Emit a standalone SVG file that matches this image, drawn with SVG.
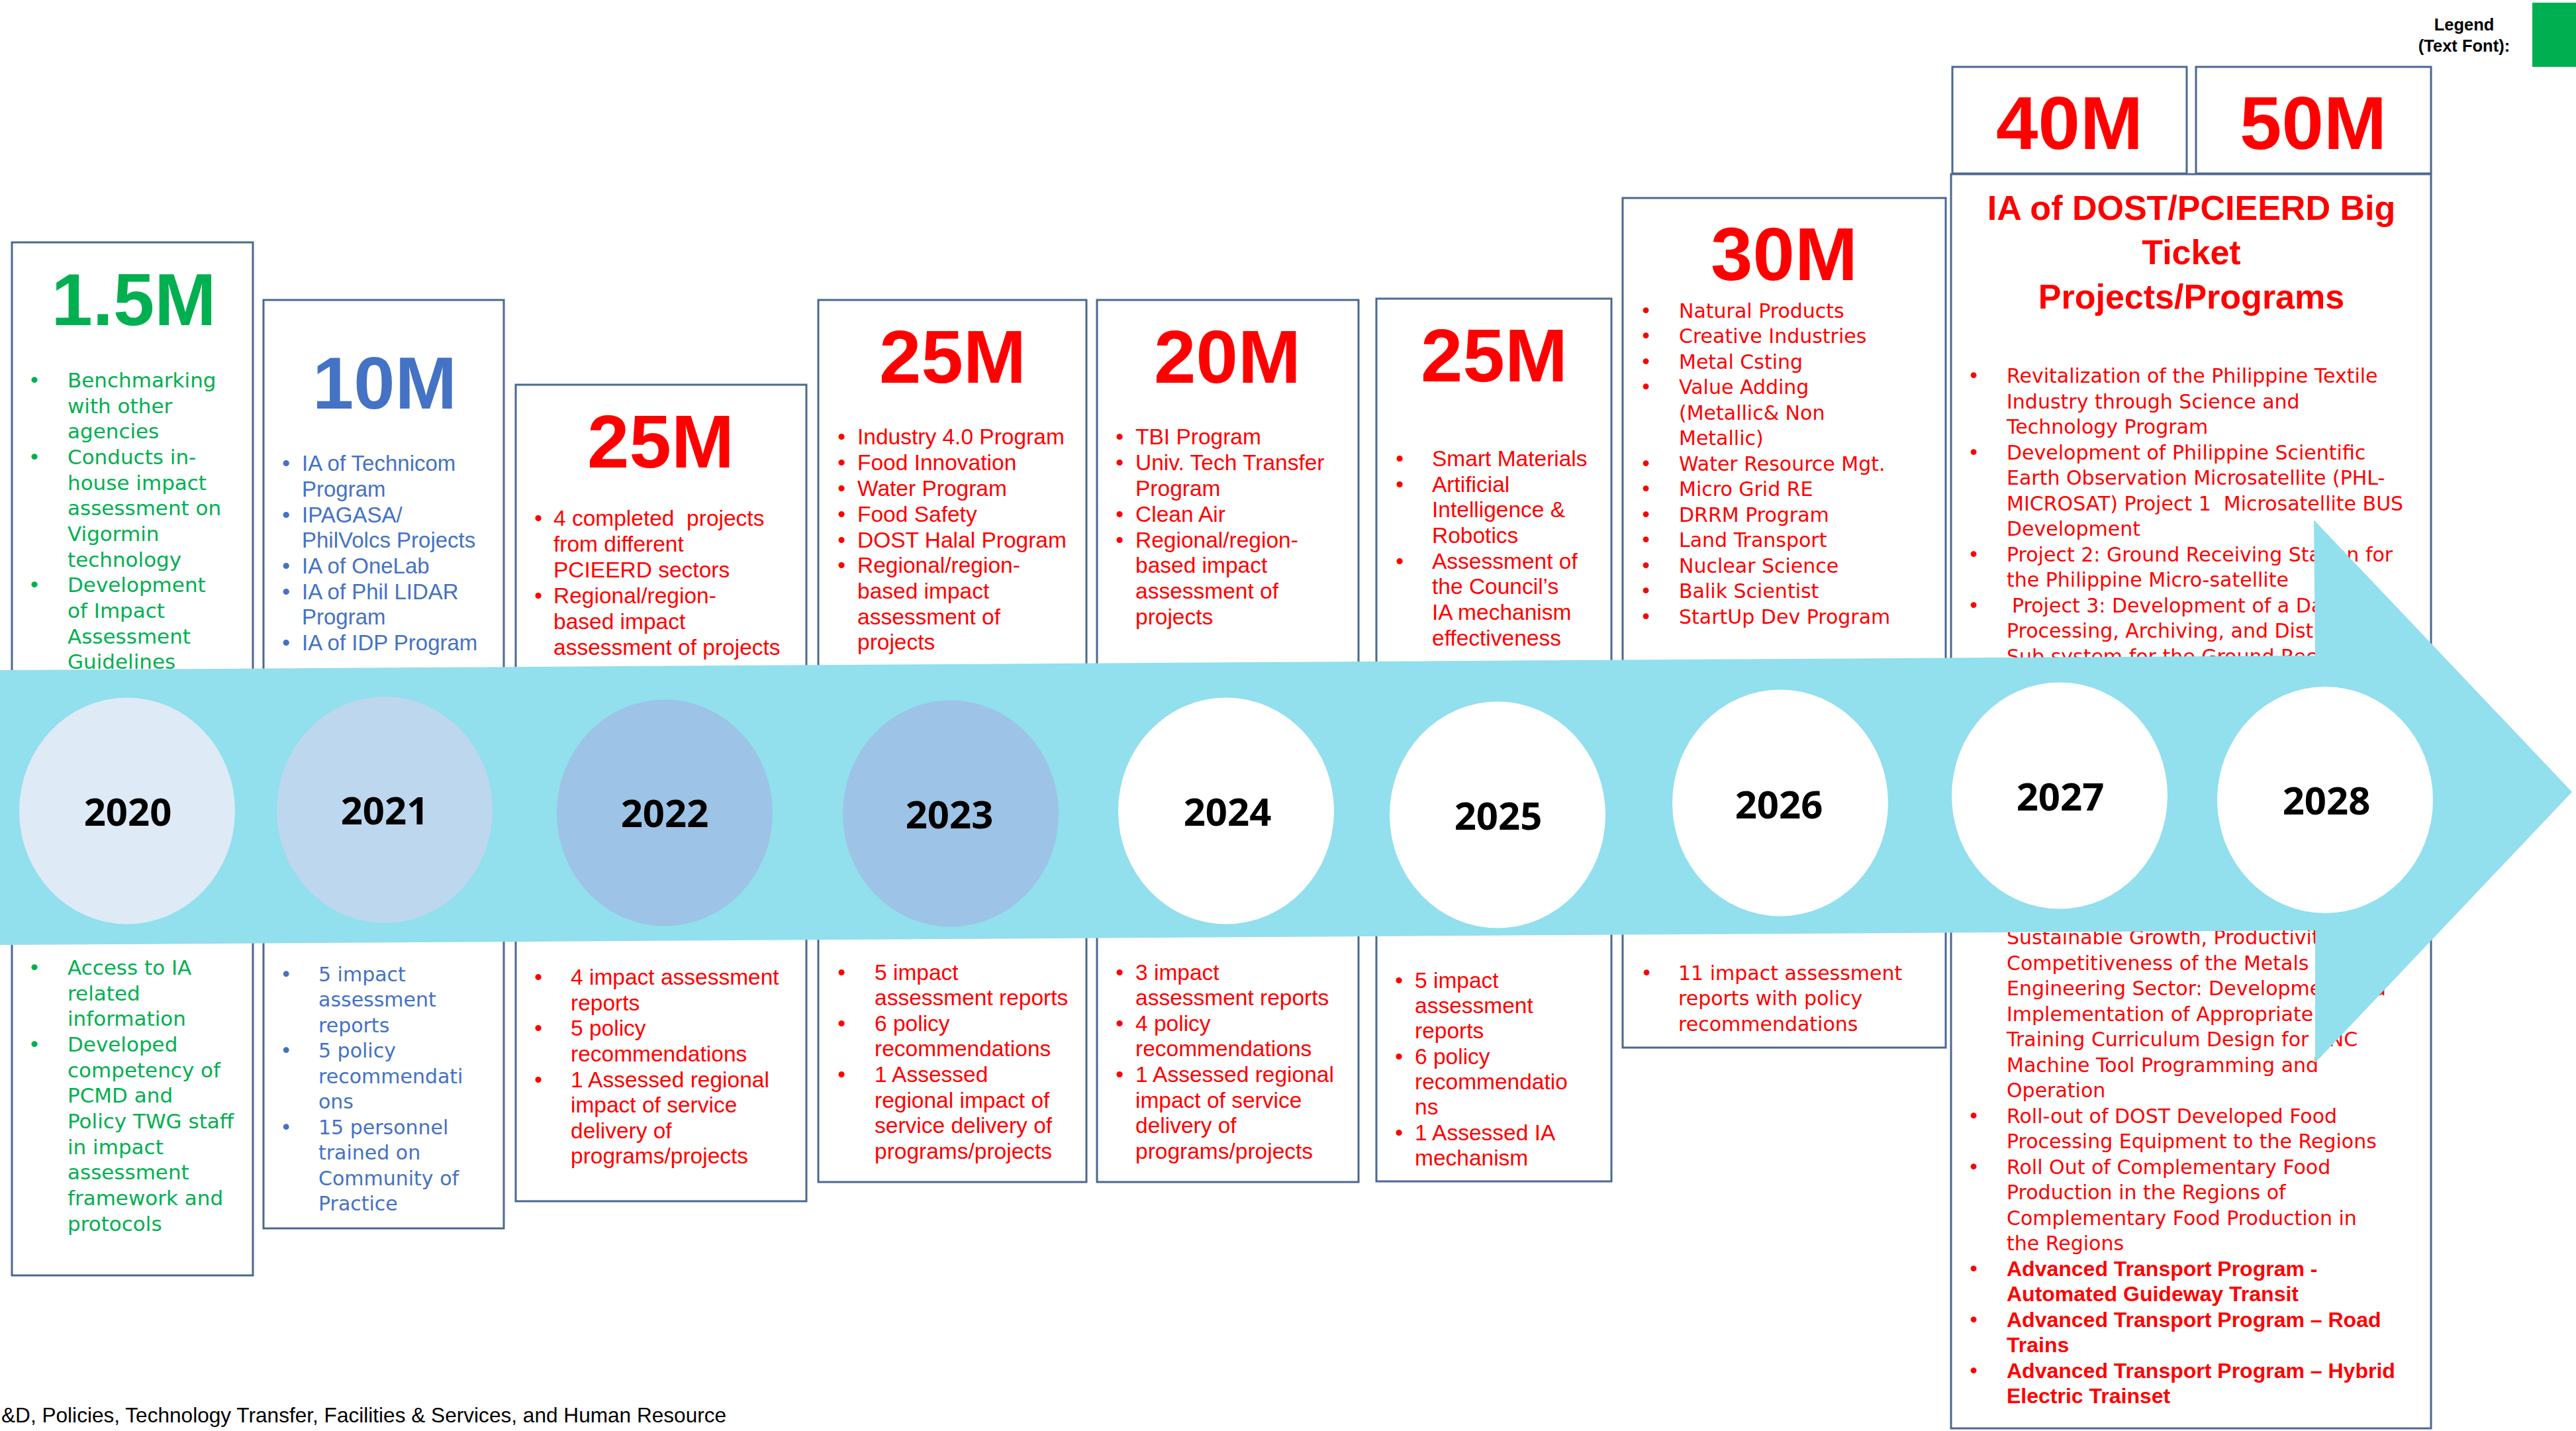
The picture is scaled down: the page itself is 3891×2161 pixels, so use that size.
<svg xmlns="http://www.w3.org/2000/svg" width="3891" height="2161" viewBox="0 0 3891 2161">
<style>
.box{fill:#fff;stroke:#4B6892;stroke-width:3}
.num{font-family:"Liberation Sans",Arial,sans-serif;font-weight:700;font-size:114px;text-anchor:middle}
.cg{font-family:"DejaVu Sans",sans-serif;font-size:30px}
.cg31{font-family:"DejaVu Sans",sans-serif;font-size:31px}
.cn{font-family:"Liberation Sans",Arial,sans-serif;font-size:33.5px}
.bd{font-family:"Liberation Sans",Arial,sans-serif;font-size:32px;font-weight:700}
.ttl{font-family:"Liberation Sans",Arial,sans-serif;font-size:52px;font-weight:700;text-anchor:middle}
.g{fill:#00B050}.b{fill:#4472C4}.r{fill:#FF0000}
.bul{text-anchor:middle}
.yr{font-family:"Open Sans",sans-serif;font-weight:700;font-size:58px;text-anchor:middle;fill:#000}
.pre{white-space:pre}
</style>
<rect width="3891" height="2161" fill="#fff"/>

<g id="box-2020">
<rect class="box" x="18" y="366" width="364" height="1560"/>
<text class="num g" x="202" y="491" style="font-size:112px">1.5M</text>
<g class="cg31 g bul"><text x="52" y="585">•</text><text x="52" y="701">•</text><text x="52" y="894">•</text><text x="52" y="1472">•</text><text x="52" y="1588">•</text></g>
<text class="cg31 g"><tspan x="102" y="585">Benchmarking</tspan><tspan x="102" y="623.5">with other</tspan><tspan x="102" y="662">agencies</tspan><tspan x="102" y="701">Conducts in-</tspan><tspan x="102" y="739.5">house impact</tspan><tspan x="102" y="778">assessment on</tspan><tspan x="102" y="817">Vigormin</tspan><tspan x="102" y="855.5">technology</tspan><tspan x="102" y="894">Development</tspan><tspan x="102" y="933">of Impact</tspan><tspan x="102" y="971.5">Assessment</tspan><tspan x="102" y="1010">Guidelines</tspan></text>
<text class="cg31 g"><tspan x="102" y="1472">Access to IA</tspan><tspan x="102" y="1510.5">related</tspan><tspan x="102" y="1549">information</tspan><tspan x="102" y="1588">Developed</tspan><tspan x="102" y="1626.5">competency of</tspan><tspan x="102" y="1665">PCMD and</tspan><tspan x="102" y="1704">Policy TWG staff</tspan><tspan x="102" y="1742.5">in impact</tspan><tspan x="102" y="1781">assessment</tspan><tspan x="102" y="1820">framework and</tspan><tspan x="102" y="1858.5">protocols</tspan></text>
</g>

<g id="box-2021">
<rect class="box" x="398" y="453" width="363" height="1402"/>
<text class="num b" x="581" y="617" style="font-size:112px">10M</text>
<g class="cn b bul"><text x="432" y="711">•</text><text x="432" y="789">•</text><text x="432" y="866">•</text><text x="432" y="905">•</text><text x="432" y="982">•</text></g>
<text class="cn b" style="font-size:33px"><tspan x="456" y="711">IA of Technicom</tspan><tspan x="456" y="750">Program</tspan><tspan x="456" y="789">IPAGASA/</tspan><tspan x="456" y="827">PhilVolcs Projects</tspan><tspan x="456" y="866">IA of OneLab</tspan><tspan x="456" y="905">IA of Phil LIDAR</tspan><tspan x="456" y="943">Program</tspan><tspan x="456" y="982">IA of IDP Program</tspan></text>
<g class="cg b bul"><text x="432" y="1482">•</text><text x="432" y="1597">•</text><text x="432" y="1713">•</text></g>
<text class="cg b"><tspan x="481" y="1482">5 impact</tspan><tspan x="481" y="1520">assessment</tspan><tspan x="481" y="1559">reports</tspan><tspan x="481" y="1597">5 policy</tspan><tspan x="481" y="1636">recommendati</tspan><tspan x="481" y="1674">ons</tspan><tspan x="481" y="1713">15 personnel</tspan><tspan x="481" y="1751">trained on</tspan><tspan x="481" y="1790">Community of</tspan><tspan x="481" y="1828">Practice</tspan></text>
</g>

<g id="box-2022">
<rect class="box" x="779" y="581" width="439" height="1233"/>
<text class="num r" x="998" y="706">25M</text>
<g class="cn r bul"><text x="813" y="794">•</text><text x="813" y="911">•</text><text x="813" y="1487">•</text><text x="813" y="1564">•</text><text x="813" y="1642">•</text></g>
<text class="cn r"><tspan x="836" y="794" class="pre">4 completed  projects</tspan><tspan x="836" y="833">from different</tspan><tspan x="836" y="872">PCIEERD sectors</tspan><tspan x="836" y="911">Regional/region-</tspan><tspan x="836" y="950">based impact</tspan><tspan x="836" y="989">assessment of projects</tspan></text>
<text class="cn r"><tspan x="862" y="1487">4 impact assessment</tspan><tspan x="862" y="1526">reports</tspan><tspan x="862" y="1564">5 policy</tspan><tspan x="862" y="1603">recommendations</tspan><tspan x="862" y="1642">1 Assessed regional</tspan><tspan x="862" y="1680">impact of service</tspan><tspan x="862" y="1719">delivery of</tspan><tspan x="862" y="1757">programs/projects</tspan></text>
</g>

<g id="box-2023">
<rect class="box" x="1236" y="453" width="405" height="1332"/>
<text class="num r" x="1439" y="578">25M</text>
<g class="cn r bul"><text x="1271" y="671">•</text><text x="1271" y="710">•</text><text x="1271" y="749">•</text><text x="1271" y="788">•</text><text x="1271" y="827">•</text><text x="1271" y="865">•</text><text x="1271" y="1480">•</text><text x="1271" y="1557">•</text><text x="1271" y="1634">•</text></g>
<text class="cn r"><tspan x="1295" y="671">Industry 4.0 Program</tspan><tspan x="1295" y="710">Food Innovation</tspan><tspan x="1295" y="749">Water Program</tspan><tspan x="1295" y="788">Food Safety</tspan><tspan x="1295" y="827">DOST Halal Program</tspan><tspan x="1295" y="865">Regional/region-</tspan><tspan x="1295" y="904">based impact</tspan><tspan x="1295" y="943">assessment of</tspan><tspan x="1295" y="981">projects</tspan></text>
<text class="cn r"><tspan x="1321" y="1480">5 impact</tspan><tspan x="1321" y="1518">assessment reports</tspan><tspan x="1321" y="1557">6 policy</tspan><tspan x="1321" y="1595">recommendations</tspan><tspan x="1321" y="1634">1 Assessed</tspan><tspan x="1321" y="1673">regional impact of</tspan><tspan x="1321" y="1711">service delivery of</tspan><tspan x="1321" y="1750">programs/projects</tspan></text>
</g>

<g id="box-2024">
<rect class="box" x="1657" y="453" width="395" height="1332"/>
<text class="num r" x="1854" y="578">20M</text>
<g class="cn r bul"><text x="1691" y="671">•</text><text x="1691" y="710">•</text><text x="1691" y="788">•</text><text x="1691" y="827">•</text><text x="1691" y="1480">•</text><text x="1691" y="1557">•</text><text x="1691" y="1634">•</text></g>
<text class="cn r"><tspan x="1715" y="671">TBI Program</tspan><tspan x="1715" y="710">Univ. Tech Transfer</tspan><tspan x="1715" y="749">Program</tspan><tspan x="1715" y="788">Clean Air</tspan><tspan x="1715" y="827">Regional/region-</tspan><tspan x="1715" y="865">based impact</tspan><tspan x="1715" y="904">assessment of</tspan><tspan x="1715" y="943">projects</tspan></text>
<text class="cn r"><tspan x="1715" y="1480">3 impact</tspan><tspan x="1715" y="1518">assessment reports</tspan><tspan x="1715" y="1557">4 policy</tspan><tspan x="1715" y="1595">recommendations</tspan><tspan x="1715" y="1634">1 Assessed regional</tspan><tspan x="1715" y="1673">impact of service</tspan><tspan x="1715" y="1711">delivery of</tspan><tspan x="1715" y="1750">programs/projects</tspan></text>
</g>

<g id="box-2025">
<rect class="box" x="2079" y="451" width="355" height="1333"/>
<text class="num r" x="2257" y="576">25M</text>
<g class="cn r bul"><text x="2114" y="704">•</text><text x="2114" y="743">•</text><text x="2114" y="859">•</text><text x="2113" y="1492">•</text><text x="2113" y="1607">•</text><text x="2113" y="1722">•</text></g>
<text class="cn r"><tspan x="2163" y="704">Smart Materials</tspan><tspan x="2163" y="743">Artificial</tspan><tspan x="2163" y="781">Intelligence &amp;</tspan><tspan x="2163" y="820">Robotics</tspan><tspan x="2163" y="859">Assessment of</tspan><tspan x="2163" y="897">the Council’s</tspan><tspan x="2163" y="936">IA mechanism</tspan><tspan x="2163" y="975">effectiveness</tspan></text>
<text class="cn r"><tspan x="2137" y="1492">5 impact</tspan><tspan x="2137" y="1530">assessment</tspan><tspan x="2137" y="1568">reports</tspan><tspan x="2137" y="1607">6 policy</tspan><tspan x="2137" y="1645">recommendatio</tspan><tspan x="2137" y="1683">ns</tspan><tspan x="2137" y="1722">1 Assessed IA</tspan><tspan x="2137" y="1760">mechanism</tspan></text>
</g>

<g id="box-2026">
<rect class="box" x="2451" y="299" width="488" height="1283"/>
<text class="num r" x="2695" y="423">30M</text>
<g class="cg r bul"><text x="2486" y="480">•</text><text x="2486" y="518">•</text><text x="2486" y="557">•</text><text x="2486" y="595">•</text><text x="2486" y="711">•</text><text x="2486" y="749">•</text><text x="2486" y="788">•</text><text x="2486" y="826">•</text><text x="2486" y="865">•</text><text x="2486" y="903">•</text><text x="2486" y="942">•</text><text x="2487" y="1480">•</text></g>
<text class="cg r"><tspan x="2536" y="480">Natural Products</tspan><tspan x="2536" y="518">Creative Industries</tspan><tspan x="2536" y="557">Metal Csting</tspan><tspan x="2536" y="595">Value Adding</tspan><tspan x="2536" y="634">(Metallic&amp; Non</tspan><tspan x="2536" y="672">Metallic)</tspan><tspan x="2536" y="711">Water Resource Mgt.</tspan><tspan x="2536" y="749">Micro Grid RE</tspan><tspan x="2536" y="788">DRRM Program</tspan><tspan x="2536" y="826">Land Transport</tspan><tspan x="2536" y="865">Nuclear Science</tspan><tspan x="2536" y="903">Balik Scientist</tspan><tspan x="2536" y="942">StartUp Dev Program</tspan></text>
<text class="cg r"><tspan x="2535" y="1480">11 impact assessment</tspan><tspan x="2535" y="1518">reports with policy</tspan><tspan x="2535" y="1557">recommendations</tspan></text>
</g>

<g id="box-2027-2028">
<rect class="box" x="2949" y="101" width="354" height="161"/>
<rect class="box" x="3317" y="101" width="355" height="161"/>
<rect class="box" x="2947" y="263" width="725" height="1894"/>
<text class="num r" x="3126" y="225">40M</text>
<text class="num r" x="3494" y="225">50M</text>
<text class="ttl r"><tspan x="3310" y="332">IA of DOST/PCIEERD Big</tspan><tspan x="3310" y="399">Ticket</tspan><tspan x="3310" y="466">Projects/Programs</tspan></text>
<g class="cg r bul"><text x="2981" y="578">•</text><text x="2981" y="693.5">•</text><text x="2981" y="847.5">•</text><text x="2981" y="924.5">•</text><text x="2981" y="1696">•</text><text x="2981" y="1773">•</text><text x="2981" y="1927">•</text><text x="2981" y="2004">•</text><text x="2981" y="2081">•</text></g>
<text class="cg r"><tspan x="3031" y="578">Revitalization of the Philippine Textile</tspan><tspan x="3031" y="616.5">Industry through Science and</tspan><tspan x="3031" y="655">Technology Program</tspan><tspan x="3031" y="693.5">Development of Philippine Scientific</tspan><tspan x="3031" y="732">Earth Observation Microsatellite (PHL-</tspan><tspan x="3031" y="770.5" class="pre">MICROSAT) Project 1  Microsatellite BUS</tspan><tspan x="3031" y="809">Development</tspan><tspan x="3031" y="847.5">Project 2: Ground Receiving Station for</tspan><tspan x="3031" y="886">the Philippine Micro-satellite</tspan><tspan x="3039" y="924.5">Project 3: Development of a Data</tspan><tspan x="3031" y="963">Processing, Archiving, and Distribution</tspan><tspan x="3031" y="1001.5">Sub system for the Ground Receiving</tspan><tspan x="3031" y="1426">Sustainable Growth, Productivity and</tspan><tspan x="3031" y="1465">Competitiveness of the Metals and</tspan><tspan x="3031" y="1503">Engineering Sector: Development and</tspan><tspan x="3031" y="1542">Implementation of Appropriate</tspan><tspan x="3031" y="1580">Training Curriculum Design for CNC</tspan><tspan x="3031" y="1619">Machine Tool Programming and</tspan><tspan x="3031" y="1657">Operation</tspan><tspan x="3031" y="1696">Roll-out of DOST Developed Food</tspan><tspan x="3031" y="1734">Processing Equipment to the Regions</tspan><tspan x="3031" y="1773">Roll Out of Complementary Food</tspan><tspan x="3031" y="1811">Production in the Regions of</tspan><tspan x="3031" y="1850">Complementary Food Production in</tspan><tspan x="3031" y="1888">the Regions</tspan></text>
<text class="bd r"><tspan x="3031" y="1927">Advanced Transport Program -</tspan><tspan x="3031" y="1965">Automated Guideway Transit</tspan><tspan x="3031" y="2004">Advanced Transport Program – Road</tspan><tspan x="3031" y="2042">Trains</tspan><tspan x="3031" y="2081">Advanced Transport Program – Hybrid</tspan><tspan x="3031" y="2119">Electric Trainset</tspan></text>
</g>

<g id="connectors">
<polygon points="0,1012 3497,990 3495,785 3885,1196 3497,1605 3497,1405 0,1427" fill="#92DFEE"/>
</g>

<g id="year-2020"><ellipse cx="192" cy="1224.5" rx="163" ry="171" fill="#DEEAF6"/><text class="yr" x="193" y="1247">2020</text></g>
<g id="year-2021"><ellipse cx="581" cy="1223" rx="163" ry="171" fill="#BDD7EE"/><text class="yr" x="581" y="1245">2021</text></g>
<g id="year-2022"><ellipse cx="1004" cy="1227.5" rx="163" ry="171" fill="#9DC3E6"/><text class="yr" x="1004" y="1249">2022</text></g>
<g id="year-2023"><ellipse cx="1436" cy="1228.5" rx="163" ry="171" fill="#9DC3E6"/><text class="yr" x="1434" y="1251">2023</text></g>
<g id="year-2024"><ellipse cx="1852" cy="1224.5" rx="163" ry="171" fill="#fff"/><text class="yr" x="1854" y="1247">2024</text></g>
<g id="year-2025"><ellipse cx="2262" cy="1230.5" rx="163" ry="171" fill="#fff"/><text class="yr" x="2263" y="1253">2025</text></g>
<g id="year-2026"><ellipse cx="2689" cy="1212.5" rx="163" ry="171" fill="#fff"/><text class="yr" x="2687" y="1236">2026</text></g>
<g id="year-2027"><ellipse cx="3111" cy="1201.5" rx="163" ry="171" fill="#fff"/><text class="yr" x="3112" y="1224">2027</text></g>
<g id="year-2028"><ellipse cx="3512" cy="1208" rx="163" ry="171" fill="#fff"/><text class="yr" x="3514" y="1230">2028</text></g>

<g id="legend">
<text font-family="'Liberation Sans',Arial,sans-serif" font-weight="700" font-size="25.5" text-anchor="middle" fill="#000"><tspan x="3722" y="46">Legend</tspan><tspan x="3722" y="78">(Text Font):</tspan></text>
<rect x="3825" y="4" width="70" height="97" fill="#00B050"/>
</g>

<text id="footer" x="2" y="2148" font-family="'Liberation Sans',Arial,sans-serif" font-size="31.6" fill="#000">&amp;D, Policies, Technology Transfer, Facilities &amp; Services, and Human Resource</text>
</svg>
